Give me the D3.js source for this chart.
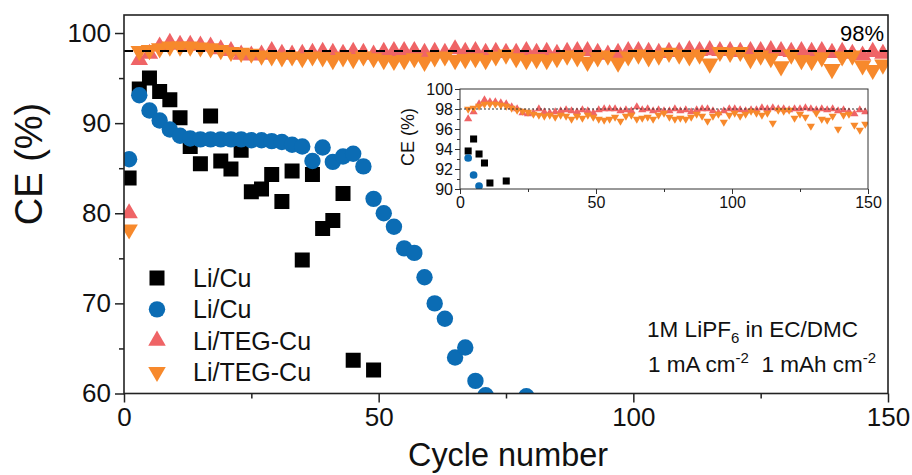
<!DOCTYPE html>
<html>
<head>
<meta charset="utf-8">
<script src="https://cdn.jsdelivr.net/npm/d3@7"></script>
<style>
  html, body { margin: 0; padding: 0; background: #ffffff; }
  svg { display: block; font-family: "Liberation Sans", Arial, sans-serif; }
</style>
</head>
<body>
<svg id="chart" width="912" height="475"></svg>
<script>
// ---------------- DATA ----------------
const xTicks = [0, 50, 100, 150];
const yTicks = [60, 70, 80, 90, 100];
const insetYTicks = [90, 92, 94, 96, 98, 100];
const seriesNames = ["Li/Cu", "Li/Cu", "Li/TEG-Cu", "Li/TEG-Cu"];
const refLine = 98;

const liCuSqCycles = [1,3,5,7,9,11,13,15,17,19,21,23,25,27,29,31,33,35,37,39,41,43,45,49];
const liCuSqCE     = [83.9,93.8,95.0,93.5,92.6,90.6,87.4,85.5,90.8,85.8,84.9,87.0,82.4,82.7,84.3,81.3,84.7,74.8,84.3,78.3,79.2,82.2,63.7,62.6];

const liCuCircCycles = [1,3,5,7,9,11,13,15,17,19,21,23,25,27,29,31,33,35,37,39,41,43,45,47,49,51,53,55,57,59,61,63,65,67,69,71,79];
const liCuCircCE     = [86.0,93.1,91.4,90.3,89.3,88.6,88.3,88.2,88.2,88.2,88.2,88.2,88.1,88.1,88.0,87.9,87.6,87.4,85.8,87.3,85.7,86.3,86.6,85.2,81.6,80.0,78.5,76.1,75.6,72.9,70.0,68.3,64.0,65.1,61.4,59.8,59.7];

const tegCycles = [1,3,5,7,9,11,13,15,17,19,21,23,25,27,29,31,33,35,37,39,41,43,45,47,49,51,53,55,57,59,61,63,65,67,69,71,73,75,77,79,81,83,85,87,89,91,93,95,97,99,101,103,105,107,109,111,113,115,117,119,121,123,125,127,129,131,133,135,137,139,141,143,145,147,149];
const tegUpCE = [80.0,97.0,97.7,98.5,98.9,98.7,98.7,98.6,98.5,98.2,98.0,97.6,97.5,97.6,98.0,97.7,97.6,97.7,97.8,97.9,97.8,97.7,97.9,97.8,97.6,97.9,98.0,98.0,98.0,97.8,97.9,97.8,98.2,97.9,98.0,97.8,97.9,97.8,97.8,98.0,97.8,97.9,97.7,97.9,98.0,98.0,97.8,97.6,97.8,98.0,98.0,97.9,97.8,97.9,97.9,98.1,98.0,98.1,98.0,98.0,97.9,98.0,98.0,98.1,98.0,97.9,98.0,97.9,98.0,97.8,97.9,97.7,97.5,97.9,97.7];
const tegDownCE = [78.2,98.0,98.1,98.3,98.5,98.5,98.5,98.4,98.3,98.1,97.9,97.8,97.7,97.5,97.4,97.3,97.4,97.2,97.4,97.3,97.0,97.3,97.1,97.4,97.2,97.0,96.9,97.0,97.2,96.8,97.3,97.4,97.0,97.1,97.2,97.0,97.4,97.6,97.2,97.0,97.1,97.0,97.2,97.5,97.3,96.8,97.3,97.5,96.7,97.4,97.6,97.3,97.5,97.8,97.6,97.4,97.6,96.6,97.9,97.8,97.9,97.1,97.5,97.2,96.3,97.6,97.0,96.9,97.3,96.0,97.4,97.5,96.4,95.9,96.5];

// ---------------- SETUP ----------------
const COLORS = { black: "#000000", blue: "#0b6cb4", pink: "#ef6466", orange: "#f7892c", axis: "#222222" };
const svg = d3.select("#chart");
const FONT = "'Liberation Sans', Arial, sans-serif";

const main = { left: 124, right: 888, top: 15, bottom: 393.5 };
const x = d3.scaleLinear().domain([0, 150]).range([main.left, main.right]);
const y = d3.scaleLinear().domain([60, 102]).range([main.bottom, main.top]);

const ins = { left: 460, right: 868, top: 89, bottom: 189 };
const xi = d3.scaleLinear().domain([0, 150]).range([ins.left, ins.right]);
const yi = d3.scaleLinear().domain([90, 100]).range([ins.bottom, ins.top]);

const zip = (xs, ys) => xs.map((c, i) => ({ c, v: ys[i] }));
const dSq = zip(liCuSqCycles, liCuSqCE);
const dCi = zip(liCuCircCycles, liCuCircCE);
const dUp = zip(tegCycles, tegUpCE);
const dDn = zip(tegCycles, tegDownCE);

const defs = svg.append("defs");
defs.append("clipPath").attr("id", "clipMain").append("rect")
  .attr("x", main.left).attr("y", main.top)
  .attr("width", main.right - main.left).attr("height", main.bottom - main.top);
defs.append("clipPath").attr("id", "clipIns").append("rect")
  .attr("x", ins.left).attr("y", ins.top)
  .attr("width", ins.right - ins.left).attr("height", ins.bottom - ins.top);

function triSize(side) { return side * side * Math.sqrt(3) / 4; }

function drawSeries(g, sx, sy, scale) {
  const sq = scale * 15, r = scale * 8.2, tri = scale * 17.5;
  g.append("g").selectAll("path").data(dSq).join("path")
    .attr("d", d3.symbol().type(d3.symbolSquare).size(sq * sq))
    .attr("transform", d => `translate(${sx(d.c)},${sy(d.v)})`)
    .attr("fill", COLORS.black);
  g.append("g").selectAll("circle").data(dCi).join("circle")
    .attr("cx", d => sx(d.c)).attr("cy", d => sy(d.v)).attr("r", r)
    .attr("fill", COLORS.blue);
  g.append("g").selectAll("path").data(dUp).join("path")
    .attr("d", d3.symbol().type(d3.symbolTriangle).size(triSize(tri)))
    .attr("transform", d => `translate(${sx(d.c)},${sy(d.v)})`)
    .attr("fill", COLORS.pink);
  g.append("g").selectAll("path").data(dDn).join("path")
    .attr("d", d3.symbol().type(d3.symbolTriangle).size(triSize(tri)))
    .attr("transform", d => `translate(${sx(d.c)},${sy(d.v)}) rotate(180)`)
    .attr("fill", COLORS.orange);
}

// ---------------- MAIN PLOT ----------------
const gMainData = svg.append("g").attr("clip-path", "url(#clipMain)");
drawSeries(gMainData, x, y, 1);

// reference line
svg.append("line")
  .attr("x1", x(0)).attr("x2", x(150)).attr("y1", y(refLine)).attr("y2", y(refLine))
  .attr("stroke", "#000").attr("stroke-width", 2).attr("stroke-dasharray", "9,9");
svg.append("text").attr("x", 884).attr("y", 41).attr("text-anchor", "end")
  .attr("font-size", 22).attr("font-family", FONT).attr("fill", "#000").text("98%");

// axes
const xAxis = d3.axisBottom(x).tickValues(xTicks).tickSize(9).tickPadding(5).tickFormat(d3.format("d"));
const xMinor = d3.axisBottom(x).tickValues([25, 75, 125]).tickSize(5).tickFormat("");
const yAxis = d3.axisLeft(y).tickValues(yTicks).tickSize(9).tickPadding(4).tickFormat(d3.format("d"));
const yMinor = d3.axisLeft(y).tickValues([65, 75, 85, 95]).tickSize(5).tickFormat("");

function styleAxis(g, fs) {
  g.select(".domain").remove();
  g.selectAll("line").attr("stroke", COLORS.axis).attr("stroke-width", 1.5);
  g.selectAll("text").attr("font-size", fs).attr("font-family", FONT).attr("fill", "#111");
}
svg.append("g").attr("transform", `translate(0,${main.bottom})`).call(xAxis).call(g => styleAxis(g, 26));
svg.append("g").attr("transform", `translate(0,${main.bottom})`).call(xMinor).call(g => styleAxis(g, 26));
svg.append("g").attr("transform", `translate(${main.left},0)`).call(yAxis).call(g => styleAxis(g, 26));
svg.append("g").attr("transform", `translate(${main.left},0)`).call(yMinor).call(g => styleAxis(g, 26));

// frame
svg.append("rect").attr("x", main.left).attr("y", main.top)
  .attr("width", main.right - main.left).attr("height", main.bottom - main.top)
  .attr("fill", "none").attr("stroke", COLORS.axis).attr("stroke-width", 1.6);

// axis titles
svg.append("text").attr("x", 508).attr("y", 466)
  .attr("text-anchor", "middle").attr("font-size", 34).attr("font-family", FONT).attr("fill", "#111")
  .attr("textLength", 200).attr("lengthAdjust", "spacingAndGlyphs")
  .text("Cycle number");
svg.append("text").attr("transform", `translate(42,164) rotate(-90)`)
  .attr("text-anchor", "middle").attr("font-size", 38).attr("font-family", FONT).attr("fill", "#111")
  .text("CE (%)");

// legend
const legendRows = [
  { name: seriesNames[0], type: "sq" },
  { name: seriesNames[1], type: "ci" },
  { name: seriesNames[2], type: "up" },
  { name: seriesNames[3], type: "dn" }
];
const legY = d3.scalePoint().domain(d3.range(legendRows.length)).range([278, 372]);
const gLeg = svg.append("g");
legendRows.forEach((row, i) => {
  const cy = legY(i), cx = 157;
  if (row.type === "sq") {
    gLeg.append("path").attr("d", d3.symbol().type(d3.symbolSquare).size(15 * 15)())
      .attr("transform", `translate(${cx},${cy})`).attr("fill", COLORS.black);
  } else if (row.type === "ci") {
    gLeg.append("circle").attr("cx", cx).attr("cy", cy).attr("r", 8.2).attr("fill", COLORS.blue);
  } else {
    gLeg.append("path").attr("d", d3.symbol().type(d3.symbolTriangle).size(triSize(17.5))())
      .attr("transform", `translate(${cx},${cy}) rotate(${row.type === "dn" ? 180 : 0})`)
      .attr("fill", row.type === "dn" ? COLORS.orange : COLORS.pink);
  }
  gLeg.append("text").attr("x", 193).attr("y", cy + 9).attr("font-size", 25)
    .attr("font-family", FONT).attr("fill", "#111").text(row.name);
});

// annotations
const t1 = svg.append("text").attr("x", 858).attr("y", 337).attr("text-anchor", "end")
  .attr("font-size", 22.5).attr("font-family", FONT).attr("fill", "#111");
t1.append("tspan").text("1M LiPF");
t1.append("tspan").attr("dy", 6).attr("font-size", 15).text("6");
t1.append("tspan").attr("dy", -6).text("\u00a0in EC/DMC");
const t2 = svg.append("text").attr("x", 876).attr("y", 372).attr("text-anchor", "end")
  .attr("font-size", 22.5).attr("font-family", FONT).attr("fill", "#111");
t2.append("tspan").text("1 mA cm");
t2.append("tspan").attr("dy", -9).attr("font-size", 15).text("-2");
t2.append("tspan").attr("dy", 9).text("\u00a0\u00a01 mAh cm");
t2.append("tspan").attr("dy", -9).attr("font-size", 15).text("-2");

// ---------------- INSET ----------------
svg.append("rect").attr("x", 398).attr("y", 82).attr("width", 482).attr("height", 130).attr("fill", "#fff");
const gInsData = svg.append("g").attr("clip-path", "url(#clipIns)");
drawSeries(gInsData, xi, yi, 0.47);
svg.append("line")
  .attr("x1", xi(0)).attr("x2", xi(150)).attr("y1", yi(refLine)).attr("y2", yi(refLine))
  .attr("stroke", "#333").attr("stroke-width", 1).attr("stroke-dasharray", "2,2");

const xiAxis = d3.axisBottom(xi).tickValues(xTicks).tickSize(5).tickPadding(3).tickFormat(d3.format("d"));
const xiMinor = d3.axisBottom(xi).tickValues([25, 75, 125]).tickSize(3).tickFormat("");
const yiAxis = d3.axisLeft(yi).tickValues(insetYTicks).tickSize(5).tickPadding(2).tickFormat(d3.format("d"));
const yiMinor = d3.axisLeft(yi).tickValues([91, 93, 95, 97, 99]).tickSize(3).tickFormat("");
function styleInset(g) {
  g.select(".domain").remove();
  g.selectAll("line").attr("stroke", "#333").attr("stroke-width", 1);
  g.selectAll("text").attr("font-size", 16).attr("font-family", FONT).attr("fill", "#111");
}
svg.append("g").attr("transform", `translate(0,${ins.bottom})`).call(xiAxis).call(styleInset);
svg.append("g").attr("transform", `translate(0,${ins.bottom})`).call(xiMinor).call(styleInset);
svg.append("g").attr("transform", `translate(${ins.left},0)`).call(yiAxis).call(styleInset);
svg.append("g").attr("transform", `translate(${ins.left},0)`).call(yiMinor).call(styleInset);
svg.append("rect").attr("x", ins.left).attr("y", ins.top)
  .attr("width", ins.right - ins.left).attr("height", ins.bottom - ins.top)
  .attr("fill", "none").attr("stroke", "#333").attr("stroke-width", 1);
svg.append("text").attr("transform", `translate(414,137) rotate(-90)`)
  .attr("text-anchor", "middle").attr("font-size", 18).attr("font-family", FONT).attr("fill", "#111")
  .text("CE (%)");
</script>
</body>
</html>
